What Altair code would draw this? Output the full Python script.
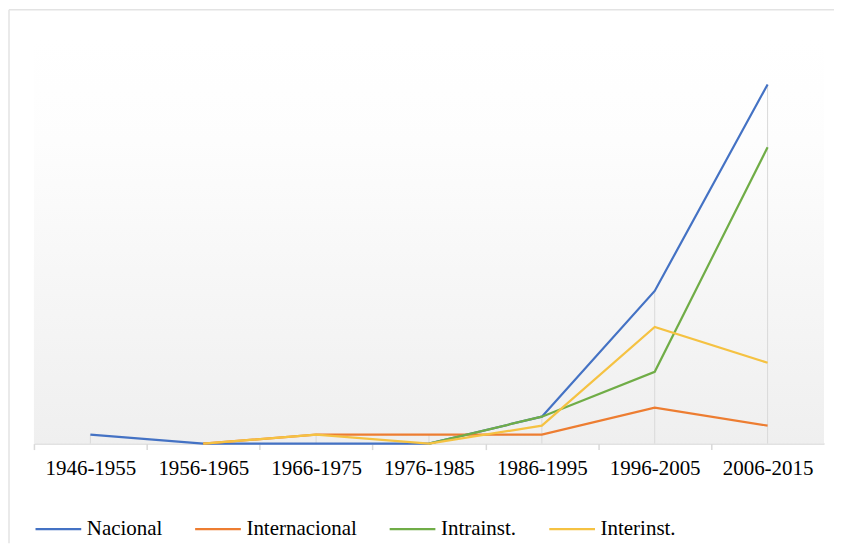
import altair as alt
import pandas as pd

periods = ["1946-1955", "1956-1965", "1966-1975", "1976-1985", "1986-1995", "1996-2005", "2006-2015"]
series = ["Nacional", "Internacional", "Intrainst.", "Interinst."]
nacional = [1, 0, 0, 0, 3, 17, 40]
internacional = [None, 0, 1, 1, 1, 4, 2]
intrainst = [None, None, None, 0, 3, 8, 33]
interinst = [None, 0, 1, 0, 2, 13, 9]
colors = ["#4472C4", "#ED7D31", "#70AD47", "#F5C242"]

rows = []
for name, vals in zip(series, [nacional, internacional, intrainst, interinst]):
    for p, v in zip(periods, vals):
        if v is not None:
            rows.append({"period": p, "serie": name, "value": v})
df = pd.DataFrame(rows)
drop_df = df.groupby("period", as_index=False)["value"].max()
drop_df["zero"] = 0

W, H = 792, 405
STEP = W / len(periods)
font = "Liberation Serif, Times New Roman, Times, serif"

xscale = alt.Scale(type="point", domain=periods, padding=0.5)
yscale = alt.Scale(domain=[0, 45], nice=False)
xaxis = alt.Axis(labelAngle=0, labelFont=font, labelFontSize=21, labelColor="#000000",
                 domainColor="#d9d9d9", domainWidth=1.5, tickColor="#d9d9d9",
                 tickWidth=1.5, tickSize=6, labelPadding=8, grid=False,
                 tickOffset=-STEP / 2, labelOffset=STEP / 2, title=None)

one = pd.DataFrame({"a": [0]})

bg = alt.Chart(one).mark_rect(
    fill=alt.LinearGradient(
        gradient="linear", x1=0, y1=0, x2=0, y2=1,
        stops=[alt.GradientStop(offset=0, color="#ffffff"),
               alt.GradientStop(offset=0.25, color="#fdfdfd"),
               alt.GradientStop(offset=1, color="#efefef")],
    )
).encode(x=alt.value(0), x2=alt.value(W), y=alt.value(0), y2=alt.value(H))

edge_left = alt.Chart(one).mark_rule(color="#e3e3e3", strokeWidth=1.5).encode(
    x=alt.value(-25), y=alt.value(-30), y2=alt.value(H + 100))
edge_top = alt.Chart(one).mark_rule(color="#e3e3e3", strokeWidth=1.5).encode(
    x=alt.value(-25), x2=alt.value(W + 10), y=alt.value(-30))

drops = alt.Chart(drop_df).mark_rule(color="#d9d9d9", strokeWidth=1).encode(
    x=alt.X("period:N", scale=xscale, axis=xaxis),
    y=alt.Y("value:Q", scale=yscale, axis=None),
    y2=alt.Y2("zero"),
)

lines = alt.Chart(df).mark_line(strokeWidth=2.2).encode(
    x=alt.X("period:N", scale=xscale, axis=xaxis),
    y=alt.Y("value:Q", scale=yscale, axis=None),
    color=alt.Color("serie:N", scale=alt.Scale(domain=series, range=colors),
                    legend=alt.Legend(title=None, orient="bottom", direction="horizontal",
                                      symbolSize=2100, symbolStrokeWidth=2.2,
                                      labelFont=font, labelFontSize=21, labelColor="#000000",
                                      columnPadding=28, offset=26)),
)

chart = alt.layer(edge_left, edge_top, bg, drops, lines).properties(
    width=W, height=H,
    padding={"left": 0, "top": 0, "right": 0, "bottom": 0},
).configure_view(stroke=None)

chart.save("out.html", embed_options={"renderer": "svg", "actions": False})
